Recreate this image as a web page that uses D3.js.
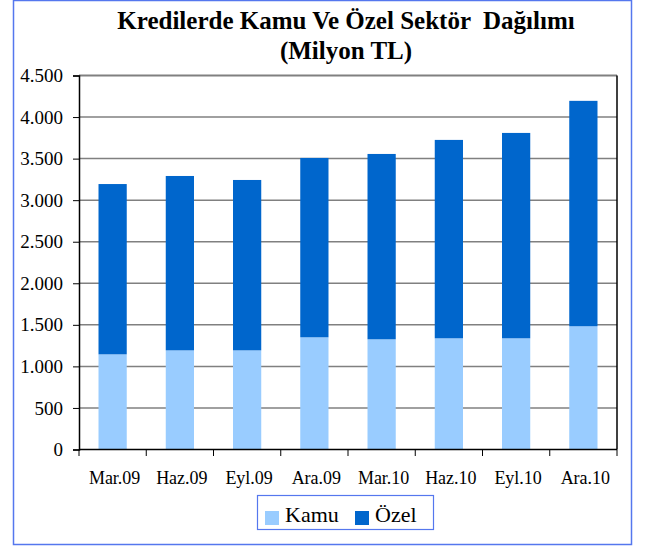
<!DOCTYPE html>
<html>
<head>
<meta charset="utf-8">
<script src="https://cdn.jsdelivr.net/npm/d3@7"></script>
<style>
  body { margin: 0; background: #fff; }
</style>
</head>
<body>
<div id="chart"></div>
<script>
// chart data
const categories = ['Mar.09', 'Haz.09', 'Eyl.09', 'Ara.09', 'Mar.10', 'Haz.10', 'Eyl.10', 'Ara.10'];
const kamu = [1145, 1193, 1193, 1350, 1326, 1338, 1338, 1483];
const ozel = [2049, 2098, 2050, 2158, 2230, 2387, 2471, 2712];
const seriesNames = ['Kamu', 'Özel'];
const yTicks = [0, 500, 1000, 1500, 2000, 2500, 3000, 3500, 4000, 4500];
const titleLines = ['Kredilerde Kamu Ve Özel Sektör  Dağılımı', '(Milyon TL)'];

const width = 645;
const height = 546;
const colors = ['#99ccff', '#0066cc'];
const serif = '"Liberation Serif", "Times New Roman", serif';

const svg = d3.select('#chart')
  .append('svg')
  .attr('width', width)
  .attr('height', height)
  .attr('font-family', serif);

// outer frame
svg.append('rect')
  .attr('x', 13.5).attr('y', 0.5)
  .attr('width', 618).attr('height', 544)
  .attr('fill', 'none')
  .attr('stroke', '#5577ee')
  .attr('stroke-width', 1.5);

// title
svg.selectAll('.title')
  .data(titleLines)
  .enter()
  .append('text')
  .attr('class', 'title')
  .attr('x', 346)
  .attr('y', (d, i) => 29 + i * 30)
  .attr('text-anchor', 'middle')
  .attr('font-family', serif)
  .attr('font-size', 25)
  .attr('font-weight', 'bold')
  .style('white-space', 'pre')
  .text(d => d);

// scales
const xScale = d3.scaleBand()
  .domain(categories)
  .range([79, 617])
  .paddingInner(0.58)
  .paddingOuter(0.29);

const yScale = d3.scaleLinear()
  .domain([0, 4500])
  .range([449.5, 75.5]);

// gridlines
svg.append('g')
  .selectAll('line')
  .data(yTicks.filter(t => t > 0))
  .enter()
  .append('line')
  .attr('x1', 79).attr('x2', 617)
  .attr('y1', d => yScale(d)).attr('y2', d => yScale(d))
  .attr('stroke', '#808080')
  .attr('stroke-width', d => d === 4500 ? 2 : 1.5);

// stacked bars
const rows = categories.map((c, i) => ({ cat: c, Kamu: kamu[i], 'Özel': ozel[i] }));
const stacked = d3.stack().keys(seriesNames)(rows);

svg.append('g')
  .selectAll('g')
  .data(stacked)
  .enter()
  .append('g')
  .attr('fill', (d, i) => colors[i])
  .selectAll('rect')
  .data(d => d)
  .enter()
  .append('rect')
  .attr('x', d => xScale(d.data.cat))
  .attr('width', xScale.bandwidth())
  .attr('y', d => yScale(d[1]))
  .attr('height', d => yScale(d[0]) - yScale(d[1]));

// right border of plot area
svg.append('line')
  .attr('x1', 617).attr('x2', 617)
  .attr('y1', 75.5).attr('y2', 449.5)
  .attr('stroke', '#000')
  .attr('stroke-width', 1.5);

// y axis
const yAxis = d3.axisLeft(yScale)
  .tickValues(yTicks)
  .tickSize(6)
  .tickPadding(10)
  .tickFormat(d => d3.format(',')(d).replace(/,/g, '.'));

const yG = svg.append('g')
  .attr('transform', 'translate(79,0)')
  .call(yAxis)
  .attr('font-family', serif)
  .attr('font-size', 19);
yG.select('.domain').attr('stroke', '#000').attr('stroke-width', 1.5);
yG.selectAll('.tick line').attr('stroke', '#000');
yG.selectAll('text').attr('fill', '#000');

// x axis, ticks between categories
const bounds = d3.range(categories.length + 1).map(i => 79 + i * (617 - 79) / categories.length);
const xG = svg.append('g')
  .attr('font-family', serif)
  .attr('font-size', 18);
xG.append('line')
  .attr('x1', 79).attr('x2', 617)
  .attr('y1', 449.5).attr('y2', 449.5)
  .attr('stroke', '#000')
  .attr('stroke-width', 1.5);
xG.selectAll('.xt')
  .data(bounds)
  .enter()
  .append('line')
  .attr('x1', d => d).attr('x2', d => d)
  .attr('y1', 449.5).attr('y2', 456)
  .attr('stroke', '#000');
xG.selectAll('text')
  .data(categories)
  .enter()
  .append('text')
  .attr('x', d => xScale(d) + xScale.bandwidth() / 2 + 2)
  .attr('y', 484)
  .attr('text-anchor', 'middle')
  .text(d => d);

// legend
const legend = svg.append('g')
  .attr('font-family', serif)
  .attr('font-size', 22);
legend.append('rect')
  .attr('x', 257.5).attr('y', 495.5)
  .attr('width', 176).attr('height', 34)
  .attr('fill', '#fff')
  .attr('stroke', '#5577ee')
  .attr('stroke-width', 1.2);

const legendX = [265, 355];
const items = legend.selectAll('.item')
  .data(seriesNames)
  .enter()
  .append('g')
  .attr('class', 'item')
  .attr('transform', (d, i) => `translate(${legendX[i]},0)`);
items.append('rect')
  .attr('x', 0).attr('y', 511)
  .attr('width', 14).attr('height', 14)
  .attr('fill', (d, i) => colors[i]);
items.append('text')
  .attr('x', 20)
  .attr('y', 522)
  .text(d => d);
</script>
</body>
</html>
